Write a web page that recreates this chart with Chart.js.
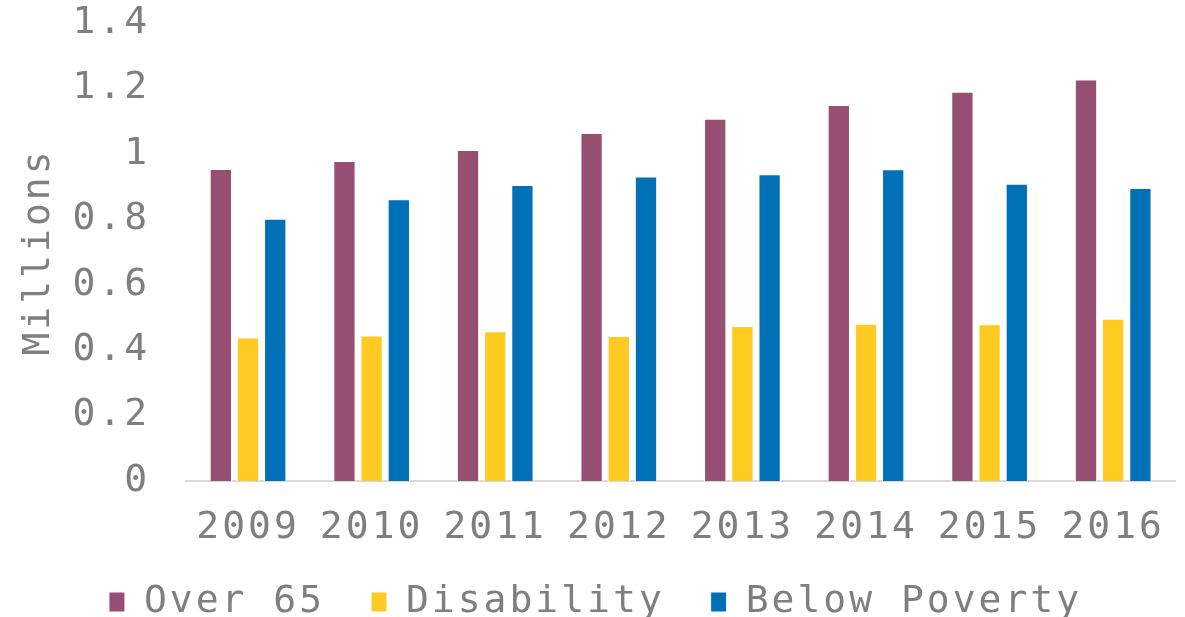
<!DOCTYPE html>
<html lang="en">
<head>
    <meta charset="UTF-8">
    <title>Index</title>
    <style>
        body { margin: 0; background: #fff; }
        #chart-box { width: 1185px; height: 617px; }
    </style>
</head>
<body>

<div id="chart-box">
    <canvas id="bar-chart" width="1185" height="617"></canvas>
</div>

</body>

<script src="https://cdn.jsdelivr.net/npm/chart.js@4.4.1/dist/chart.umd.min.js"></script>
<script>

    // values in millions
    const years = ["2009", "2010", "2011", "2012", "2013", "2014", "2015", "2016"];
    const over65 = [0.954, 0.978, 1.012, 1.064, 1.107, 1.149, 1.190, 1.227];
    const disability = [0.439, 0.445, 0.458, 0.443, 0.474, 0.481, 0.479, 0.496];
    const belowPoverty = [0.802, 0.861, 0.905, 0.931, 0.938, 0.953, 0.909, 0.896];
    const yTicks = [0, 0.2, 0.4, 0.6, 0.8, 1, 1.2, 1.4];

    const grey = "#7f7f7f";
    const font = "'DejaVu Sans Mono', monospace";

    function mkSet(label, data, color) {
        return {
            label: label,
            data: data,
            backgroundColor: color,
            borderColor: "#ffffff",
            borderWidth: 1,
            categoryPercentage: 0.66,
            barPercentage: 0.82
        };
    }

    // the original font is wide, fake it with letter spacing
    const spacing = {
        id: 'spacing',
        beforeUpdate(chart) { chart.ctx.letterSpacing = "3px"; },
        beforeDraw(chart) { chart.ctx.letterSpacing = "3px"; }
    };

    var ctx = document.getElementById("bar-chart").getContext("2d");
    var myChart = new Chart(ctx, {
        type: 'bar',
        plugins: [spacing],
        data: {
            labels: years,
            datasets: [
                // trailing space = wider gap between legend items
                mkSet("Over 65 ", over65, "#964f72"),
                mkSet("Disability ", disability, "#ffca22"),
                mkSet("Below Poverty", belowPoverty, "#0071b6")
            ]
        },
        options: {
            responsive: false,
            animation: false,
            layout: {
                autoPadding: false,
                padding: { left: 16, right: 10, top: 23, bottom: -14 }
            },
            plugins: {
                tooltip: { enabled: false },
                legend: {
                    position: 'bottom',
                    labels: {
                        color: grey,
                        font: { family: font, size: 38 },
                        boxWidth: 16,
                        boxHeight: 20,
                        padding: 20
                    }
                }
            },
            scales: {
                x: {
                    afterFit: function (axis) {
                        axis.paddingLeft = 0;
                        axis.paddingRight = 0;
                        axis.height = 82;
                    },
                    grid: { display: false, drawTicks: false },
                    border: { display: true, color: "#d9d9d9", width: 2 },
                    ticks: {
                        color: grey,
                        font: { family: font, size: 38, lineHeight: 0.95 },
                        padding: 29,
                        maxRotation: 0
                    }
                },
                y: {
                    min: 0,
                    max: 1.4,
                    afterBuildTicks: function (axis) {
                        axis.ticks = yTicks.map(v => ({ value: v }));
                    },
                    afterFit: function (axis) {
                        // tick padding should not push the plot down
                        axis.paddingTop = 0;
                        axis.paddingBottom = 0;
                    },
                    grid: { display: false, drawTicks: false },
                    border: { display: false },
                    ticks: {
                        color: grey,
                        font: { family: font, size: 38 },
                        padding: 36,
                        callback: function (v) {
                            return String(Number(v.toFixed(1)));
                        }
                    },
                    title: {
                        display: true,
                        text: "Millions",
                        color: grey,
                        font: { family: font, size: 38 },
                        padding: { top: 0, bottom: -25 }
                    }
                }
            }
        }
    });

</script>
</html>
